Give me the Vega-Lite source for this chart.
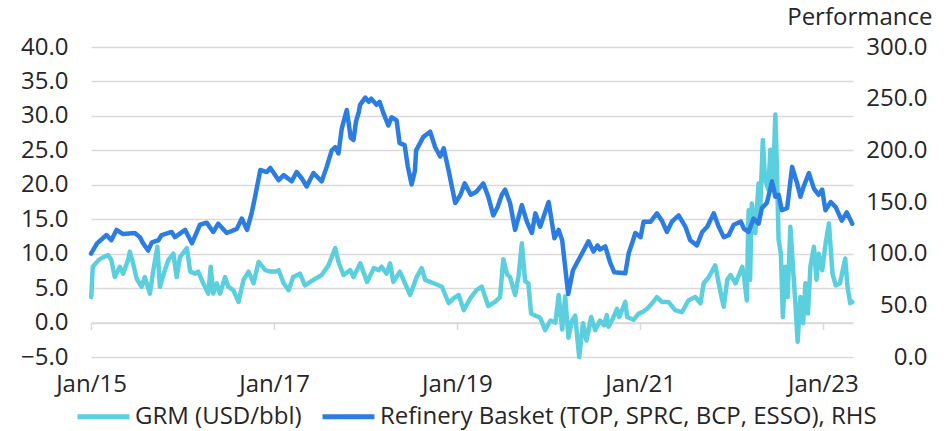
{
 "$schema": "https://vega.github.io/schema/vega-lite/v6.json",
 "width": 762,
 "height": 310,
 "autosize": {"type": "none"},
 "padding": {"left": 91, "top": 47, "right": 95, "bottom": 74},
 "background": "white",
 "config": {"view": {"stroke": null}, "font": "Open Sans"},
 "datasets": {
  "grm": [
   {"d":"2015-01-02","v":3.7},{"d":"2015-01-08","v":8.1},{"d":"2015-02-01","v":9.1},{"d":"2015-02-20","v":9.5},{"d":"2015-03-10","v":9.8},{"d":"2015-03-23","v":9.1},{"d":"2015-04-06","v":6.6},{"d":"2015-04-26","v":8.1},{"d":"2015-05-09","v":7.1},{"d":"2015-05-29","v":9.1},{"d":"2015-06-05","v":10.3},{"d":"2015-06-18","v":8.6},{"d":"2015-07-02","v":6.4},{"d":"2015-07-22","v":5.2},{"d":"2015-08-04","v":6.6},{"d":"2015-08-24","v":4.2},{"d":"2015-09-07","v":7.6},{"d":"2015-09-23","v":11.0},{"d":"2015-10-03","v":5.2},{"d":"2015-10-23","v":7.6},{"d":"2015-11-06","v":9.1},{"d":"2015-11-26","v":10.0},{"d":"2015-12-09","v":6.6},{"d":"2015-12-22","v":9.5},
   {"d":"2016-01-19","v":10.8},{"d":"2016-02-01","v":7.4},{"d":"2016-02-21","v":7.1},{"d":"2016-03-04","v":7.4},{"d":"2016-03-24","v":5.7},{"d":"2016-04-13","v":4.2},{"d":"2016-04-23","v":8.1},{"d":"2016-05-03","v":4.2},{"d":"2016-05-17","v":5.7},{"d":"2016-05-30","v":4.2},{"d":"2016-06-19","v":6.6},{"d":"2016-07-02","v":5.2},{"d":"2016-07-22","v":4.7},{"d":"2016-08-12","v":3.0},{"d":"2016-09-01","v":6.2},{"d":"2016-09-21","v":7.4},{"d":"2016-10-11","v":5.7},{"d":"2016-10-31","v":8.8},{"d":"2016-11-27","v":7.6},{"d":"2016-12-17","v":7.4},
   {"d":"2017-01-06","v":7.4},{"d":"2017-01-19","v":7.6},{"d":"2017-02-08","v":5.7},{"d":"2017-02-28","v":4.7},{"d":"2017-03-18","v":6.6},{"d":"2017-04-14","v":7.1},{"d":"2017-05-04","v":5.4},{"d":"2017-06-07","v":6.2},{"d":"2017-07-10","v":6.9},{"d":"2017-08-06","v":8.3},{"d":"2017-09-02","v":10.8},{"d":"2017-09-15","v":8.8},{"d":"2017-10-05","v":6.9},{"d":"2017-11-01","v":7.6},{"d":"2017-11-14","v":6.6},{"d":"2017-12-11","v":8.6},
   {"d":"2018-01-07","v":5.9},{"d":"2018-02-03","v":7.9},{"d":"2018-02-23","v":7.6},{"d":"2018-03-06","v":8.1},{"d":"2018-03-26","v":7.1},{"d":"2018-04-09","v":8.6},{"d":"2018-04-22","v":5.9},{"d":"2018-05-18","v":7.4},{"d":"2018-06-28","v":4.0},{"d":"2018-07-24","v":6.6},{"d":"2018-08-13","v":7.9},{"d":"2018-08-27","v":6.2},{"d":"2018-09-30","v":5.7},{"d":"2018-11-02","v":5.2},{"d":"2018-11-29","v":2.8},{"d":"2018-12-18","v":3.5},
   {"d":"2019-01-08","v":4.0},{"d":"2019-01-28","v":1.8},{"d":"2019-02-23","v":3.5},{"d":"2019-03-20","v":4.7},{"d":"2019-04-10","v":5.2},{"d":"2019-05-06","v":2.4},{"d":"2019-06-02","v":3.0},{"d":"2019-06-22","v":3.7},{"d":"2019-07-05","v":9.2},{"d":"2019-07-20","v":7.0},{"d":"2019-08-01","v":6.6},{"d":"2019-08-21","v":4.0},{"d":"2019-09-04","v":6.8},{"d":"2019-09-17","v":11.5},{"d":"2019-09-30","v":6.0},{"d":"2019-10-13","v":5.7},{"d":"2019-10-24","v":1.3},{"d":"2019-11-10","v":1.0},{"d":"2019-11-29","v":0.7},{"d":"2019-12-19","v":-1.1},
   {"d":"2020-01-09","v":0.3},{"d":"2020-01-29","v":0.0},{"d":"2020-02-11","v":4.0},{"d":"2020-02-25","v":-1.0},{"d":"2020-03-08","v":3.8},{"d":"2020-03-21","v":-2.2},{"d":"2020-04-04","v":0.3},{"d":"2020-04-17","v":1.0},{"d":"2020-05-03","v":-5.0},{"d":"2020-05-18","v":-0.1},{"d":"2020-06-01","v":-2.6},{"d":"2020-06-12","v":-0.6},{"d":"2020-06-20","v":0.8},{"d":"2020-07-06","v":-1.1},{"d":"2020-07-25","v":0.3},{"d":"2020-08-10","v":-0.4},{"d":"2020-08-21","v":1.1},{"d":"2020-08-28","v":-0.6},{"d":"2020-09-11","v":0.3},{"d":"2020-10-01","v":2.0},{"d":"2020-10-10","v":0.8},{"d":"2020-11-03","v":3.0},{"d":"2020-11-10","v":0.8},{"d":"2020-12-06","v":0.4},{"d":"2020-12-26","v":1.3},
   {"d":"2021-01-10","v":1.5},{"d":"2021-01-29","v":2.0},{"d":"2021-02-18","v":2.8},{"d":"2021-03-09","v":3.7},{"d":"2021-03-29","v":3.0},{"d":"2021-04-24","v":3.0},{"d":"2021-05-21","v":1.8},{"d":"2021-06-17","v":1.5},{"d":"2021-07-13","v":3.2},{"d":"2021-08-09","v":3.7},{"d":"2021-08-30","v":2.8},{"d":"2021-09-12","v":5.7},{"d":"2021-10-02","v":6.6},{"d":"2021-10-28","v":8.3},{"d":"2021-11-11","v":5.7},{"d":"2021-11-25","v":3.2},{"d":"2021-12-01","v":2.3},{"d":"2021-12-15","v":6.2},{"d":"2021-12-28","v":6.9},
   {"d":"2022-01-17","v":5.7},{"d":"2022-02-13","v":8.1},{"d":"2022-02-20","v":6.6},{"d":"2022-03-03","v":3.2},{"d":"2022-03-10","v":16.3},{"d":"2022-03-16","v":6.2},{"d":"2022-03-23","v":17.3},{"d":"2022-04-06","v":13.0},{"d":"2022-04-19","v":20.2},{"d":"2022-04-26","v":16.8},{"d":"2022-05-06","v":26.5},{"d":"2022-05-15","v":20.7},{"d":"2022-05-28","v":19.3},{"d":"2022-06-05","v":25.1},{"d":"2022-06-16","v":20.7},{"d":"2022-06-25","v":30.2},{"d":"2022-07-01","v":22.6},{"d":"2022-07-08","v":12.0},{"d":"2022-07-17","v":10.0},{"d":"2022-07-25","v":0.8},{"d":"2022-08-04","v":8.1},{"d":"2022-08-13","v":3.7},{"d":"2022-08-24","v":13.9},{"d":"2022-09-04","v":7.6},{"d":"2022-09-13","v":2.8},{"d":"2022-09-22","v":-2.8},{"d":"2022-10-03","v":3.7},{"d":"2022-10-14","v":-0.1},{"d":"2022-10-23","v":5.7},{"d":"2022-11-02","v":1.3},{"d":"2022-11-12","v":8.1},{"d":"2022-11-26","v":11.0},{"d":"2022-12-06","v":6.2},{"d":"2022-12-15","v":10.0},{"d":"2022-12-29","v":7.6},
   {"d":"2023-01-11","v":11.3},{"d":"2023-01-25","v":14.4},{"d":"2023-02-08","v":7.1},{"d":"2023-02-21","v":5.4},{"d":"2023-03-10","v":5.7},{"d":"2023-03-31","v":9.3},{"d":"2023-04-09","v":5.2},{"d":"2023-04-20","v":2.8},{"d":"2023-04-28","v":3.0}
  ],
  "basket": [
   {"d":"2015-01-01","v":100},{"d":"2015-01-25","v":110},{"d":"2015-03-04","v":118},{"d":"2015-03-23","v":113},{"d":"2015-04-13","v":123},{"d":"2015-05-09","v":119},{"d":"2015-06-25","v":120},{"d":"2015-07-15","v":116},{"d":"2015-07-28","v":110},{"d":"2015-08-17","v":103},{"d":"2015-09-01","v":111},{"d":"2015-09-27","v":113},{"d":"2015-10-10","v":118},{"d":"2015-11-19","v":121},{"d":"2015-12-02","v":116},
   {"d":"2016-01-12","v":123},{"d":"2016-02-08","v":110},{"d":"2016-03-11","v":128},{"d":"2016-04-07","v":130},{"d":"2016-05-03","v":121},{"d":"2016-05-23","v":129},{"d":"2016-06-26","v":120},{"d":"2016-08-05","v":124},{"d":"2016-08-25","v":134},{"d":"2016-09-15","v":123},{"d":"2016-10-04","v":140},{"d":"2016-10-17","v":155},{"d":"2016-11-07","v":181},{"d":"2016-12-03","v":179},{"d":"2016-12-17","v":183},
   {"d":"2017-01-19","v":171},{"d":"2017-02-08","v":176},{"d":"2017-03-12","v":170},{"d":"2017-04-01","v":179},{"d":"2017-04-21","v":173},{"d":"2017-05-11","v":165},{"d":"2017-06-07","v":178},{"d":"2017-07-10","v":170},{"d":"2017-07-30","v":184},{"d":"2017-08-19","v":200},{"d":"2017-09-02","v":203},{"d":"2017-09-15","v":197},{"d":"2017-09-28","v":221},{"d":"2017-10-18","v":239},{"d":"2017-11-03","v":212},{"d":"2017-11-14","v":210},{"d":"2017-11-24","v":228},{"d":"2017-12-05","v":237},{"d":"2017-12-10","v":244},{"d":"2017-12-31","v":251},
   {"d":"2018-01-14","v":247},{"d":"2018-01-24","v":250},{"d":"2018-02-14","v":244},{"d":"2018-02-26","v":247},{"d":"2018-03-12","v":237},{"d":"2018-04-02","v":224},{"d":"2018-04-15","v":232},{"d":"2018-05-05","v":229},{"d":"2018-05-17","v":207},{"d":"2018-06-06","v":205},{"d":"2018-06-19","v":184},{"d":"2018-07-04","v":167},{"d":"2018-07-17","v":180},{"d":"2018-07-22","v":200},{"d":"2018-08-20","v":213},{"d":"2018-09-16","v":218},{"d":"2018-10-06","v":203},{"d":"2018-10-26","v":194},{"d":"2018-11-09","v":202},{"d":"2018-11-29","v":180},{"d":"2018-12-25","v":149},
   {"d":"2019-01-15","v":157},{"d":"2019-02-01","v":168},{"d":"2019-02-25","v":157},{"d":"2019-03-20","v":160},{"d":"2019-04-16","v":168},{"d":"2019-05-06","v":155},{"d":"2019-05-26","v":137},{"d":"2019-06-12","v":145},{"d":"2019-06-29","v":157},{"d":"2019-07-12","v":162},{"d":"2019-08-01","v":149},{"d":"2019-08-21","v":123},{"d":"2019-09-17","v":147},{"d":"2019-10-07","v":131},{"d":"2019-10-27","v":120},{"d":"2019-11-10","v":139},{"d":"2019-11-29","v":126},
   {"d":"2020-01-02","v":150},{"d":"2020-01-25","v":115},{"d":"2020-02-11","v":123},{"d":"2020-02-25","v":113},{"d":"2020-03-20","v":61},{"d":"2020-04-08","v":84},{"d":"2020-05-07","v":97},{"d":"2020-06-09","v":112},{"d":"2020-06-29","v":102},{"d":"2020-07-15","v":108},{"d":"2020-07-25","v":104},{"d":"2020-08-15","v":107},{"d":"2020-09-04","v":91},{"d":"2020-09-20","v":82},{"d":"2020-11-03","v":81},{"d":"2020-11-17","v":101},{"d":"2020-11-30","v":110},{"d":"2020-12-13","v":120},
   {"d":"2021-01-03","v":116},{"d":"2021-01-15","v":131},{"d":"2021-02-12","v":131},{"d":"2021-03-09","v":139},{"d":"2021-03-29","v":132},{"d":"2021-04-18","v":121},{"d":"2021-05-08","v":131},{"d":"2021-06-04","v":137},{"d":"2021-07-01","v":126},{"d":"2021-07-20","v":113},{"d":"2021-08-16","v":108},{"d":"2021-09-06","v":121},{"d":"2021-09-26","v":126},{"d":"2021-10-22","v":139},{"d":"2021-11-11","v":126},{"d":"2021-12-01","v":116},{"d":"2021-12-21","v":118},
   {"d":"2022-01-10","v":128},{"d":"2022-02-07","v":131},{"d":"2022-02-20","v":124},{"d":"2022-03-10","v":121},{"d":"2022-03-30","v":134},{"d":"2022-04-19","v":129},{"d":"2022-05-02","v":144},{"d":"2022-05-22","v":149},{"d":"2022-06-12","v":170},{"d":"2022-06-25","v":155},{"d":"2022-07-08","v":157},{"d":"2022-07-21","v":142},{"d":"2022-08-11","v":144},{"d":"2022-08-31","v":184},{"d":"2022-09-20","v":168},{"d":"2022-10-03","v":155},{"d":"2022-10-16","v":165},{"d":"2022-11-06","v":178},{"d":"2022-11-26","v":163},{"d":"2022-12-15","v":157},{"d":"2022-12-29","v":162},
   {"d":"2023-01-11","v":142},{"d":"2023-02-01","v":150},{"d":"2023-02-21","v":145},{"d":"2023-03-17","v":132},{"d":"2023-04-06","v":140},{"d":"2023-04-28","v":129}
  ]
 },
 "layer": [
  {
   "data": {"name": "grm"},
   "mark": {"type": "line", "strokeWidth": 4.5, "strokeJoin": "round", "strokeCap": "round"},
   "encoding": {
    "x": {"field": "d", "type": "temporal",
     "scale": {"type": "utc", "domain": [{"year": 2015, "month": 1, "date": 1, "utc": true}, {"year": 2023, "month": 5, "date": 1, "utc": true}]},
     "axis": {"orient": "bottom", "offset": -34.4, "title": null, "grid": false,
      "values": [{"year": 2015, "month": 1, "date": 1, "utc": true}, {"year": 2017, "month": 1, "date": 1, "utc": true}, {"year": 2019, "month": 1, "date": 1, "utc": true}, {"year": 2021, "month": 1, "date": 1, "utc": true}, {"year": 2023, "month": 1, "date": 1, "utc": true}],
      "labelExpr": "utcFormat(datum.value, '%b/%y')",
      "domainColor": "#d9d9d9", "domainWidth": 1.5, "tickColor": "#d9d9d9", "tickWidth": 1.5, "tickSize": 7,
      "labelFontSize": 24, "labelColor": "#262626", "labelPadding": 43, "labelFlush": false, "labelOverlap": false}},
    "y": {"field": "v", "type": "quantitative",
     "scale": {"domain": [-5, 40], "nice": false, "zero": false},
     "axis": {"orient": "left", "title": null, "values": [-5, 0, 5, 10, 15, 20, 25, 30, 35, 40], "format": ".1f",
      "grid": true, "gridColor": "#d9d9d9", "gridWidth": 1.5, "domain": false, "ticks": false,
      "labelFontSize": 24, "labelColor": "#262626", "labelPadding": 23}},
    "color": {"datum": "GRM (USD/bbl)", "type": "nominal",
     "scale": {"domain": ["GRM (USD/bbl)", "Refinery Basket (TOP, SPRC, BCP, ESSO), RHS"], "range": ["#5ccfde", "#2b7de1"]},
     "legend": {"orient": "none", "legendX": -16, "legendY": 341, "direction": "horizontal", "title": null,
      "symbolType": "stroke", "symbolStrokeWidth": 5, "symbolSize": 2700, "labelFontSize": 24, "labelColor": "#262626",
      "labelOffset": 3, "columnPadding": 10, "padding": 0, "labelLimit": 0}}
   }
  },
  {
   "data": {"name": "basket"},
   "mark": {"type": "line", "strokeWidth": 4.5, "strokeJoin": "round", "strokeCap": "round"},
   "encoding": {
    "x": {"field": "d", "type": "temporal",
     "scale": {"type": "utc", "domain": [{"year": 2015, "month": 1, "date": 1, "utc": true}, {"year": 2023, "month": 5, "date": 1, "utc": true}]},
     "axis": {"orient": "bottom", "offset": -34.4, "title": null, "grid": false,
      "values": [{"year": 2015, "month": 1, "date": 1, "utc": true}, {"year": 2017, "month": 1, "date": 1, "utc": true}, {"year": 2019, "month": 1, "date": 1, "utc": true}, {"year": 2021, "month": 1, "date": 1, "utc": true}, {"year": 2023, "month": 1, "date": 1, "utc": true}],
      "labelExpr": "utcFormat(datum.value, '%b/%y')",
      "domainColor": "#d9d9d9", "domainWidth": 1.5, "tickColor": "#d9d9d9", "tickWidth": 1.5, "tickSize": 7,
      "labelFontSize": 24, "labelColor": "#262626", "labelPadding": 43, "labelFlush": false, "labelOverlap": false}},
    "y": {"field": "v", "type": "quantitative",
     "scale": {"domain": [0, 300], "nice": false, "zero": false},
     "axis": {"orient": "right", "values": [0, 50, 100, 150, 200, 250, 300], "format": ".1f",
      "grid": false, "domain": false, "ticks": false,
      "labelFontSize": 24, "labelColor": "#262626", "labelAlign": "right", "labelPadding": 74,
      "title": "Performance", "titleAngle": 0, "titleAlign": "right", "titleBaseline": "middle", "titleX": 79, "titleY": -30,
      "titleFontSize": 24, "titleFontWeight": "normal", "titleColor": "#262626"}},
    "color": {"datum": "Refinery Basket (TOP, SPRC, BCP, ESSO), RHS", "type": "nominal"}
   }
  }
 ],
 "resolve": {"scale": {"y": "independent"}}
}
